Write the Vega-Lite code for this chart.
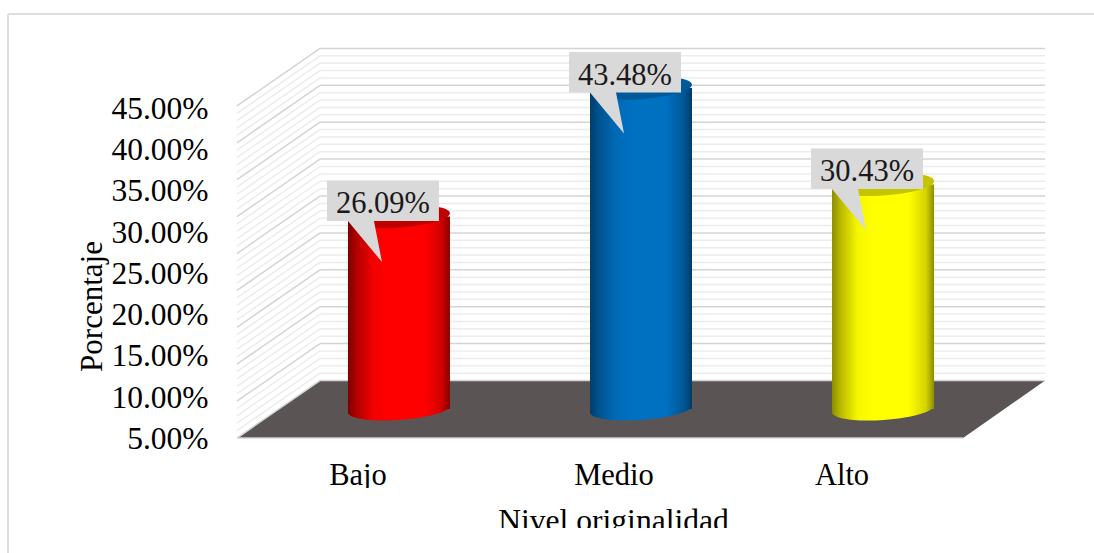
{"$schema":"https://vega.github.io/schema/vega-lite/v6.json","width":1094,"height":553,"autosize":"none","padding":0,"background":"white","config":{"view":{"stroke":null}},
"datasets":{
"niveles":[{"nivel":"Bajo","valor":0.2609},{"nivel":"Medio","valor":0.4348},{"nivel":"Alto","valor":0.3043}],
"marco":[{"x":-0.946,"x2":3.541,"y":0.5745,"y2":0.5745},{"x":-0.946,"x2":-0.946,"y":0.5745,"y2":-0.1558}],
"piso":[{"x":0,"y":0,"y2":0},{"x":0.343,"y":0,"y2":0.0779},{"x":3,"y":0,"y2":0.0779},{"x":3.339,"y":0.0779,"y2":0.0779}],
"mascara":[{"x":-0.93,"x2":3.541,"y":-0.0678,"y2":-0.0908},{"x":-0.93,"x2":3.541,"y":-0.122,"y2":-0.1558}],
"rejilla":[
{"k":"M","x":0,"x2":3,"y":0,"y2":0},{"k":"M","x":0,"x2":0.343,"y":0,"y2":0.0779},{"k":"M","x":0.343,"x2":3.339,"y":0.0779,"y2":0.0779},
{"k":"m","x":0,"x2":0.343,"y":0.01,"y2":0.0879},{"k":"m","x":0.343,"x2":3.339,"y":0.0879,"y2":0.0879},
{"k":"m","x":0,"x2":0.343,"y":0.02,"y2":0.0979},{"k":"m","x":0.343,"x2":3.339,"y":0.0979,"y2":0.0979},
{"k":"m","x":0,"x2":0.343,"y":0.03,"y2":0.1079},{"k":"m","x":0.343,"x2":3.339,"y":0.1079,"y2":0.1079},
{"k":"m","x":0,"x2":0.343,"y":0.04,"y2":0.1179},{"k":"m","x":0.343,"x2":3.339,"y":0.1179,"y2":0.1179},
{"k":"M","x":0,"x2":0.343,"y":0.05,"y2":0.1279},{"k":"M","x":0.343,"x2":3.339,"y":0.1279,"y2":0.1279},
{"k":"m","x":0,"x2":0.343,"y":0.06,"y2":0.1379},{"k":"m","x":0.343,"x2":3.339,"y":0.1379,"y2":0.1379},
{"k":"m","x":0,"x2":0.343,"y":0.07,"y2":0.1479},{"k":"m","x":0.343,"x2":3.339,"y":0.1479,"y2":0.1479},
{"k":"m","x":0,"x2":0.343,"y":0.08,"y2":0.1579},{"k":"m","x":0.343,"x2":3.339,"y":0.1579,"y2":0.1579},
{"k":"m","x":0,"x2":0.343,"y":0.09,"y2":0.1679},{"k":"m","x":0.343,"x2":3.339,"y":0.1679,"y2":0.1679},
{"k":"M","x":0,"x2":0.343,"y":0.10,"y2":0.1779},{"k":"M","x":0.343,"x2":3.339,"y":0.1779,"y2":0.1779},
{"k":"m","x":0,"x2":0.343,"y":0.11,"y2":0.1879},{"k":"m","x":0.343,"x2":3.339,"y":0.1879,"y2":0.1879},
{"k":"m","x":0,"x2":0.343,"y":0.12,"y2":0.1979},{"k":"m","x":0.343,"x2":3.339,"y":0.1979,"y2":0.1979},
{"k":"m","x":0,"x2":0.343,"y":0.13,"y2":0.2079},{"k":"m","x":0.343,"x2":3.339,"y":0.2079,"y2":0.2079},
{"k":"m","x":0,"x2":0.343,"y":0.14,"y2":0.2179},{"k":"m","x":0.343,"x2":3.339,"y":0.2179,"y2":0.2179},
{"k":"M","x":0,"x2":0.343,"y":0.15,"y2":0.2279},{"k":"M","x":0.343,"x2":3.339,"y":0.2279,"y2":0.2279},
{"k":"m","x":0,"x2":0.343,"y":0.16,"y2":0.2379},{"k":"m","x":0.343,"x2":3.339,"y":0.2379,"y2":0.2379},
{"k":"m","x":0,"x2":0.343,"y":0.17,"y2":0.2479},{"k":"m","x":0.343,"x2":3.339,"y":0.2479,"y2":0.2479},
{"k":"m","x":0,"x2":0.343,"y":0.18,"y2":0.2579},{"k":"m","x":0.343,"x2":3.339,"y":0.2579,"y2":0.2579},
{"k":"m","x":0,"x2":0.343,"y":0.19,"y2":0.2679},{"k":"m","x":0.343,"x2":3.339,"y":0.2679,"y2":0.2679},
{"k":"M","x":0,"x2":0.343,"y":0.20,"y2":0.2779},{"k":"M","x":0.343,"x2":3.339,"y":0.2779,"y2":0.2779},
{"k":"m","x":0,"x2":0.343,"y":0.21,"y2":0.2879},{"k":"m","x":0.343,"x2":3.339,"y":0.2879,"y2":0.2879},
{"k":"m","x":0,"x2":0.343,"y":0.22,"y2":0.2979},{"k":"m","x":0.343,"x2":3.339,"y":0.2979,"y2":0.2979},
{"k":"m","x":0,"x2":0.343,"y":0.23,"y2":0.3079},{"k":"m","x":0.343,"x2":3.339,"y":0.3079,"y2":0.3079},
{"k":"m","x":0,"x2":0.343,"y":0.24,"y2":0.3179},{"k":"m","x":0.343,"x2":3.339,"y":0.3179,"y2":0.3179},
{"k":"M","x":0,"x2":0.343,"y":0.25,"y2":0.3279},{"k":"M","x":0.343,"x2":3.339,"y":0.3279,"y2":0.3279},
{"k":"m","x":0,"x2":0.343,"y":0.26,"y2":0.3379},{"k":"m","x":0.343,"x2":3.339,"y":0.3379,"y2":0.3379},
{"k":"m","x":0,"x2":0.343,"y":0.27,"y2":0.3479},{"k":"m","x":0.343,"x2":3.339,"y":0.3479,"y2":0.3479},
{"k":"m","x":0,"x2":0.343,"y":0.28,"y2":0.3579},{"k":"m","x":0.343,"x2":3.339,"y":0.3579,"y2":0.3579},
{"k":"m","x":0,"x2":0.343,"y":0.29,"y2":0.3679},{"k":"m","x":0.343,"x2":3.339,"y":0.3679,"y2":0.3679},
{"k":"M","x":0,"x2":0.343,"y":0.30,"y2":0.3779},{"k":"M","x":0.343,"x2":3.339,"y":0.3779,"y2":0.3779},
{"k":"m","x":0,"x2":0.343,"y":0.31,"y2":0.3879},{"k":"m","x":0.343,"x2":3.339,"y":0.3879,"y2":0.3879},
{"k":"m","x":0,"x2":0.343,"y":0.32,"y2":0.3979},{"k":"m","x":0.343,"x2":3.339,"y":0.3979,"y2":0.3979},
{"k":"m","x":0,"x2":0.343,"y":0.33,"y2":0.4079},{"k":"m","x":0.343,"x2":3.339,"y":0.4079,"y2":0.4079},
{"k":"m","x":0,"x2":0.343,"y":0.34,"y2":0.4179},{"k":"m","x":0.343,"x2":3.339,"y":0.4179,"y2":0.4179},
{"k":"M","x":0,"x2":0.343,"y":0.35,"y2":0.4279},{"k":"M","x":0.343,"x2":3.339,"y":0.4279,"y2":0.4279},
{"k":"m","x":0,"x2":0.343,"y":0.36,"y2":0.4379},{"k":"m","x":0.343,"x2":3.339,"y":0.4379,"y2":0.4379},
{"k":"m","x":0,"x2":0.343,"y":0.37,"y2":0.4479},{"k":"m","x":0.343,"x2":3.339,"y":0.4479,"y2":0.4479},
{"k":"m","x":0,"x2":0.343,"y":0.38,"y2":0.4579},{"k":"m","x":0.343,"x2":3.339,"y":0.4579,"y2":0.4579},
{"k":"m","x":0,"x2":0.343,"y":0.39,"y2":0.4679},{"k":"m","x":0.343,"x2":3.339,"y":0.4679,"y2":0.4679},
{"k":"M","x":0,"x2":0.343,"y":0.40,"y2":0.4779},{"k":"M","x":0.343,"x2":3.339,"y":0.4779,"y2":0.4779},
{"k":"m","x":0,"x2":0.343,"y":0.41,"y2":0.4879},{"k":"m","x":0.343,"x2":3.339,"y":0.4879,"y2":0.4879},
{"k":"m","x":0,"x2":0.343,"y":0.42,"y2":0.4979},{"k":"m","x":0.343,"x2":3.339,"y":0.4979,"y2":0.4979},
{"k":"m","x":0,"x2":0.343,"y":0.43,"y2":0.5079},{"k":"m","x":0.343,"x2":3.339,"y":0.5079,"y2":0.5079},
{"k":"m","x":0,"x2":0.343,"y":0.44,"y2":0.5179},{"k":"m","x":0.343,"x2":3.339,"y":0.5179,"y2":0.5179},
{"k":"M","x":0,"x2":0.343,"y":0.45,"y2":0.5279},{"k":"M","x":0.343,"x2":3.339,"y":0.5279,"y2":0.5279}
]},
"resolve":{"scale":{"x":"independent","y":"independent"}},
"layer":[
{"data":{"name":"marco"},"mark":{"type":"rule","stroke":"#dedede","strokeWidth":2},
 "encoding":{"x":{"field":"x","type":"quantitative","axis":null,"scale":{"domain":[-0.979,3.541],"nice":false,"zero":false}},"x2":{"field":"x2"},"y":{"field":"y","type":"quantitative","axis":null,"scale":{"domain":[-0.1558,0.5935],"nice":false,"zero":false}},"y2":{"field":"y2"}}},
{"data":{"name":"piso"},"mark":{"type":"area","fill":"#5a5554","interpolate":"linear"},
 "encoding":{"x":{"field":"x","type":"quantitative","axis":null,"scale":{"domain":[-0.979,3.541],"nice":false,"zero":false}},"y":{"field":"y","type":"quantitative","axis":null,"scale":{"domain":[-0.1558,0.5935],"nice":false,"zero":false}},"y2":{"field":"y2"}}},
{"data":{"name":"rejilla"},"transform":[{"filter":"datum.k==='m'"}],"mark":{"type":"rule","stroke":"#ececec","strokeWidth":1.5},
 "encoding":{"x":{"field":"x","type":"quantitative","axis":null,"scale":{"domain":[-0.979,3.541],"nice":false,"zero":false}},"x2":{"field":"x2"},"y":{"field":"y","type":"quantitative","axis":null,"scale":{"domain":[-0.1558,0.5935],"nice":false,"zero":false}},"y2":{"field":"y2"}}},
{"data":{"name":"rejilla"},"transform":[{"filter":"datum.k==='M'"}],"mark":{"type":"rule","stroke":"#d4d4d4","strokeWidth":1.5},
 "encoding":{"x":{"field":"x","type":"quantitative","axis":null,"scale":{"domain":[-0.979,3.541],"nice":false,"zero":false}},"x2":{"field":"x2"},"y":{"field":"y","type":"quantitative","axis":null,"scale":{"domain":[-0.1558,0.5935],"nice":false,"zero":false}},"y2":{"field":"y2"}}},
{"data":{"name":"niveles"},"mark":{"type":"point","opacity":0},
 "encoding":{
  "x":{"field":"nivel","type":"nominal","sort":null,"title":"Nivel originalidad","scale":{"type":"band","domain":["Bajo","Medio","Alto"],"range":[237,963]},"axis":{"orient":"bottom","offset":-93,"domain":false,"ticks":false,"grid":false,"labelAngle":0,"labelPadding":0,"labelOffset":{"condition":{"test":"datum.value==='Medio'","value":14},"value":0},"labelFont":"Liberation Serif","labelFontSize":30.5,"labelColor":"#000000","titleFont":"Liberation Serif","titleFontSize":31.6,"titleFontWeight":"normal","titleColor":"#000000","titleX":613,"titleY":70,"titleBaseline":"alphabetic","titleAlign":"center","titleAnchor":null}},
  "y":{"field":"valor","type":"quantitative","title":"Porcentaje","scale":{"domain":[-0.0876,0.5827],"nice":false,"zero":false},"axis":{"orient":"left","offset":-208,"values":[0.05,0.1,0.15,0.2,0.25,0.3,0.35,0.4,0.45],"format":".2%","domain":false,"ticks":false,"grid":false,"labelPadding":0,"labelFont":"Liberation Serif","labelFontSize":31.5,"labelColor":"#000000","titleFont":"Liberation Serif","titleFontSize":31,"titleFontWeight":"normal","titleColor":"#000000","titleX":-100,"titleY":306,"titleAlign":"center","titleAnchor":null,"titlePadding":0}}}},
{"data":{"name":"niveles"},
 "encoding":{"x":{"field":"nivel","type":"nominal","sort":null,"axis":null,"scale":{"type":"band","domain":["Bajo","Medio","Alto"],"range":[278,1004],"paddingInner":0.5785,"paddingOuter":0.289}},"y":{"field":"valor","type":"quantitative","axis":null,"scale":{"domain":[-0.1951,0.5542],"nice":false,"zero":false}}},
 "layer":[
 {"transform":[{"filter":"datum.nivel==='Bajo'"}],"layer":[
  {"mark":{"type":"bar","fill":{"gradient":"linear","x1":0,"x2":1,"y1":0,"y2":0,"stops":[{"offset":0,"color":"#7a0000"},{"offset":0.08,"color":"#b00000"},{"offset":0.25,"color":"#f40000"},{"offset":0.4,"color":"#ff0000"},{"offset":0.75,"color":"#ff0000"},{"offset":0.92,"color":"#d00000"},{"offset":1,"color":"#860000"}]}},"encoding":{"y2":{"datum":0}}},
  {"mark":{"type":"point","filled":true,"opacity":1,"size":4,"shape":"M-51,-10 L-51,3.5 A51,11 -4 0 0 51,-3.5 L51,-10 Z","fill":{"gradient":"linear","x1":0,"x2":1,"y1":0,"y2":0,"stops":[{"offset":0,"color":"#7a0000"},{"offset":0.08,"color":"#b00000"},{"offset":0.25,"color":"#f40000"},{"offset":0.4,"color":"#ff0000"},{"offset":0.75,"color":"#ff0000"},{"offset":0.92,"color":"#d00000"},{"offset":1,"color":"#860000"}]}},"encoding":{"y":{"datum":0,"type":"quantitative","scale":{"domain":[-0.1951,0.5542],"nice":false,"zero":false}}}},
  {"mark":{"type":"point","filled":true,"opacity":1,"size":4,"shape":"M-51,3.5 A51,11 -4 1 1 51,-3.5 A51,11 -4 1 1 -51,3.5 Z","fill":"#bf0000"}}
 ]},
 {"transform":[{"filter":"datum.nivel==='Medio'"}],"layer":[
  {"mark":{"type":"bar","fill":{"gradient":"linear","x1":0,"x2":1,"y1":0,"y2":0,"stops":[{"offset":0,"color":"#003c68"},{"offset":0.08,"color":"#00528c"},{"offset":0.25,"color":"#006ab6"},{"offset":0.4,"color":"#0070c0"},{"offset":0.75,"color":"#0070c0"},{"offset":0.92,"color":"#005694"},{"offset":1,"color":"#003c68"}]}},"encoding":{"y2":{"datum":0}}},
  {"mark":{"type":"point","filled":true,"opacity":1,"size":4,"shape":"M-51,-10 L-51,3.5 A51,11 -4 0 0 51,-3.5 L51,-10 Z","fill":{"gradient":"linear","x1":0,"x2":1,"y1":0,"y2":0,"stops":[{"offset":0,"color":"#003c68"},{"offset":0.08,"color":"#00528c"},{"offset":0.25,"color":"#006ab6"},{"offset":0.4,"color":"#0070c0"},{"offset":0.75,"color":"#0070c0"},{"offset":0.92,"color":"#005694"},{"offset":1,"color":"#003c68"}]}},"encoding":{"y":{"datum":0,"type":"quantitative","scale":{"domain":[-0.1951,0.5542],"nice":false,"zero":false}}}},
  {"mark":{"type":"point","filled":true,"opacity":1,"size":4,"shape":"M-51,3.5 A51,11 -4 1 1 51,-3.5 A51,11 -4 1 1 -51,3.5 Z","fill":"#005a9a"}}
 ]},
 {"transform":[{"filter":"datum.nivel==='Alto'"}],"layer":[
  {"mark":{"type":"bar","fill":{"gradient":"linear","x1":0,"x2":1,"y1":0,"y2":0,"stops":[{"offset":0,"color":"#8c8c00"},{"offset":0.08,"color":"#b8b800"},{"offset":0.25,"color":"#f6f600"},{"offset":0.4,"color":"#ffff00"},{"offset":0.75,"color":"#ffff00"},{"offset":0.92,"color":"#d4d400"},{"offset":1,"color":"#8c8c00"}]}},"encoding":{"y2":{"datum":0}}},
  {"mark":{"type":"point","filled":true,"opacity":1,"size":4,"shape":"M-51,-10 L-51,3.5 A51,11 -4 0 0 51,-3.5 L51,-10 Z","fill":{"gradient":"linear","x1":0,"x2":1,"y1":0,"y2":0,"stops":[{"offset":0,"color":"#8c8c00"},{"offset":0.08,"color":"#b8b800"},{"offset":0.25,"color":"#f6f600"},{"offset":0.4,"color":"#ffff00"},{"offset":0.75,"color":"#ffff00"},{"offset":0.92,"color":"#d4d400"},{"offset":1,"color":"#8c8c00"}]}},"encoding":{"y":{"datum":0,"type":"quantitative","scale":{"domain":[-0.1951,0.5542],"nice":false,"zero":false}}}},
  {"mark":{"type":"point","filled":true,"opacity":1,"size":4,"shape":"M-51,3.5 A51,11 -4 1 1 51,-3.5 A51,11 -4 1 1 -51,3.5 Z","fill":"#c4c400"}}
 ]},
 {"mark":{"type":"point","filled":true,"opacity":1,"size":4,"fill":"#d9d9d9","shape":"M-72,-36 L40,-36 L40,4.5 L-25,4.5 L-17,45.5 L-51,4.5 L-72,4.5 Z"}},
 {"mark":{"type":"text","font":"Liberation Serif","fontSize":30.5,"fill":"#1a1a1a","dx":-16,"dy":-12,"align":"center","baseline":"middle"},"encoding":{"text":{"field":"valor","type":"quantitative","format":".2%"}}}
 ]},
{"data":{"name":"mascara"},"mark":{"type":"rect","fill":"white"},
 "encoding":{"x":{"field":"x","type":"quantitative","axis":null,"scale":{"domain":[-0.979,3.541],"nice":false,"zero":false}},"x2":{"field":"x2"},"y":{"field":"y","type":"quantitative","axis":null,"scale":{"domain":[-0.1558,0.5935],"nice":false,"zero":false}},"y2":{"field":"y2"}}}
]}
